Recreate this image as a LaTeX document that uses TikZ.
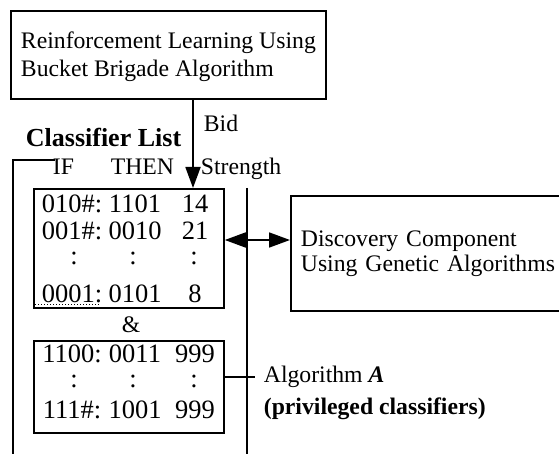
\documentclass[tikz,border=0pt]{standalone}
\usepackage{fontspec}
\setmainfont{Liberation Serif}
\usetikzlibrary{arrows.meta}

\begin{document}
\begin{tikzpicture}[x=1pt, y=-1pt, line width=1.8pt,
    every node/.style={font=\fontsize{23.7}{28}\selectfont, inner sep=0pt},
    box/.style={draw, align=left, anchor=north west, inner xsep=8pt},
    cell/.style={anchor=base, font=\fontsize{26.5}{28}\selectfont},
    tip/.style={-{Triangle[length=21pt,width=15pt]}},
    tips/.style={{Triangle[length=21pt,width=15pt]}-{Triangle[length=21pt,width=15pt]}}]
  \useasboundingbox (0,0) rectangle (559,454);
  \clip (0,0) rectangle (559,454);

  % boxes
  \node [box, minimum width=315pt, minimum height=88pt] (rlbox) at (10,10)
    {\rule{0pt}{21pt}Reinforcement Learning Using\\Bucket Brigade Algorithm};
  \node [box, minimum width=300pt, minimum height=115pt, text width=280pt,
    font=\fontsize{23.7}{25}\selectfont] (discbox) at (290,195)
    {Discovery Component\\Using Genetic Algorithms};
  \node [box, minimum width=190pt, minimum height=119pt] (rules) at (33,188) {};
  \node [box, minimum width=190pt, minimum height=92pt] (privbox) at (33,340) {};

  % classifier list frame
  \draw (55,160) -- (13,160) -- (13,460);
  \draw (247,188) -- (247,460);
  \node [anchor=base west, font=\fontsize{26}{28}\selectfont\bfseries] (listname) at (25,147) {Classifier List};
  \node [anchor=base west] (ifhead) at (52,175) {IF};
  \node [anchor=base west] (thenhead) at (110,175) {THEN};
  \node [anchor=base west] (strhead) at (200,175) {Strength};

  % classifiers
  \foreach \a/\b/\c/\y [count=\i] in {010\#:/1101/14/213, 001\#:/0010/21/240,
      0001:/0101/8/302, 1100:/0011/999/362, 111\#:/1001/999/418} {
    \node [cell] (c\i a) at (72,\y) {\a};
    \node [cell] (c\i b) at (135,\y) {\b};
    \node [cell] (c\i c) at (195,\y) {\c};
  }
  \foreach \y [count=\i] in {264,387} {
    \node [cell] (d\i a) at (74,\y) {:};
    \node [cell] (d\i b) at (133,\y) {:};
    \node [cell] (d\i c) at (194,\y) {:};
  }
  \draw [line width=1pt, dotted] (35,304) -- (100,304);
  \node [anchor=base] (amp) at (131,332) {\&};

  % connectors
  \coordinate (bidx) at (193,0);
  \coordinate (gay) at (0,240);
  \draw [tip] (bidx |- rlbox.south) -- (bidx |- rules.north);
  \node [anchor=base west] (bid) at (203,132) {Bid};
  \draw [tips] (rules.east |- gay) -- (discbox.west |- gay);
  \node [anchor=west, inner xsep=8pt] (algo) at (255,377) {Algorithm \textbf{\textit{A}}};
  \node [anchor=base west, font=\fontsize{23.7}{28}\selectfont\bfseries] (algonote) at (263,414)
    {(privileged classifiers)};
  \draw (privbox.east |- algo.west) -- (algo.west);
\end{tikzpicture}
\end{document}
